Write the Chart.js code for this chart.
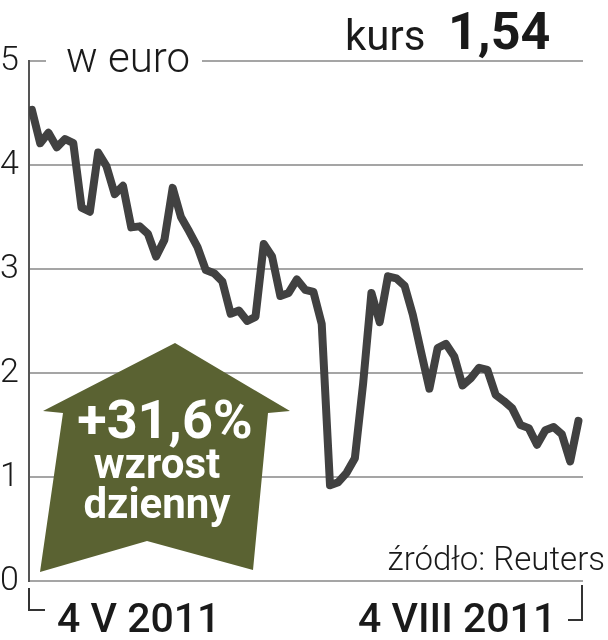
<!DOCTYPE html>
<html>
<head>
<meta charset="utf-8">
<title>kurs 1,54</title>
<script src="https://cdn.jsdelivr.net/npm/chart.js@4/dist/chart.umd.min.js"></script>
<style>
  body { margin: 0; background: #fff; }
  #wrap { position: relative; width: 608px; height: 640px; overflow: hidden; font-family: Roboto, "Liberation Sans", sans-serif; color: #1a1a1a; }
  #wrap canvas { position: absolute; left: 0; top: 0; }
  .t { position: absolute; line-height: 1; white-space: nowrap; }
  .mask { position: absolute; background: #fff; }
  .brk { position: absolute; border-color: #333; border-style: solid; border-width: 0; }
  .in { position: absolute; line-height: 1; white-space: nowrap; color: #fff; font-weight: 700; text-align: center; }
</style>
</head>
<body>
<div id="wrap">
  <canvas id="chart" width="608" height="640"></canvas>

  <!-- gap in the top gridline for the unit -->
  <div class="mask" style="left:46px;top:45px;width:156px;height:30px;"></div>
  <div class="t" style="left:66px;top:37px;font-size:42px;font-weight:300;">w euro</div>

  <div class="t" style="left:345px;top:15px;font-size:42px;font-weight:400;">kurs</div>
  <div class="t" style="left:448px;top:6px;font-size:52px;font-weight:700;">1,54</div>

  <div class="t" style="right:3px;top:542px;font-size:33px;font-weight:300;">źródło: Reuters</div>

  <div class="brk" style="left:28px;top:588px;width:15px;height:21px;border-left-width:2px;border-bottom-width:2px;"></div>
  <div class="brk" style="left:568px;top:585px;width:13px;height:34px;border-right-width:2px;border-bottom-width:2px;"></div>
  <div class="t" id="d1" style="left:57px;top:598px;font-size:41px;font-weight:500;"></div>
  <div class="t" id="d2" style="left:358px;top:598px;font-size:41px;font-weight:500;"></div>

  <svg style="position:absolute;left:0;top:0;" width="608" height="640">
    <polygon points="175,343 290,411 268,413 253,570 147,541 40,572 63,413 43,411" fill="#5a6232"/>
  </svg>
  <div class="in" style="left:65px;width:200px;top:393px;font-size:54px;">+31,6%</div>
  <div class="in" style="left:57px;width:200px;top:443px;font-size:42px;">wzrost</div>
  <div class="in" style="left:57px;width:200px;top:483px;font-size:42px;">dzienny</div>
</div>

<script>
  // daily close, EUR, 4 V 2011 - 4 VIII 2011
  const kurs = [
    4.53, 4.21, 4.31, 4.17, 4.25, 4.21, 3.59, 3.55, 4.12, 3.99,
    3.72, 3.80, 3.40, 3.41, 3.34, 3.12, 3.28, 3.78, 3.50, 3.36,
    3.21, 2.99, 2.96, 2.88, 2.57, 2.60, 2.50, 2.54, 3.24, 3.12,
    2.74, 2.77, 2.90, 2.80, 2.78, 2.47, 0.92, 0.95, 1.04, 1.18,
    1.90, 2.77, 2.49, 2.93, 2.91, 2.84, 2.56, 2.20, 1.85, 2.24,
    2.28, 2.16, 1.88, 1.95, 2.05, 2.03, 1.79, 1.73, 1.66, 1.50,
    1.47, 1.31, 1.45, 1.48, 1.41, 1.15, 1.54
  ];
  const xLabels = ['4 V 2011', '4 VIII 2011'];
  const yTicks = [0, 1, 2, 3, 4, 5];

  document.getElementById('d1').textContent = xLabels[0];
  document.getElementById('d2').textContent = xLabels[1];

  new Chart(document.getElementById('chart'), {
    type: 'line',
    data: {
      datasets: [{
        data: kurs.map((v, i) => ({ x: i, y: v })),
        borderColor: '#414141',
        borderWidth: 8,
        pointRadius: 0,
        tension: 0,
        borderJoinStyle: 'round',
        borderCapStyle: 'round'
      }]
    },
    options: {
      responsive: false,
      animation: false,
      layout: { padding: { left: 0, top: 61, right: 25, bottom: 59 } },
      plugins: { legend: { display: false }, tooltip: { enabled: false } },
      scales: {
        x: { type: 'linear', min: -0.35, max: kurs.length - 0.45, display: false },
        y: {
          min: yTicks[0],
          max: yTicks[yTicks.length - 1],
          afterBuildTicks: s => { s.ticks = yTicks.map(v => ({ value: v })); },
          afterFit: s => { s.width = 29; },
          ticks: {
            crossAlign: 'far',
            padding: 0,
            color: '#1a1a1a',
            font: { family: 'Roboto', size: 34, weight: 300 }
          },
          grid: { color: '#a5a5a5', lineWidth: 2, drawTicks: false },
          border: { color: '#555', width: 2 }
        }
      }
    }
  });
</script>
</body>
</html>
